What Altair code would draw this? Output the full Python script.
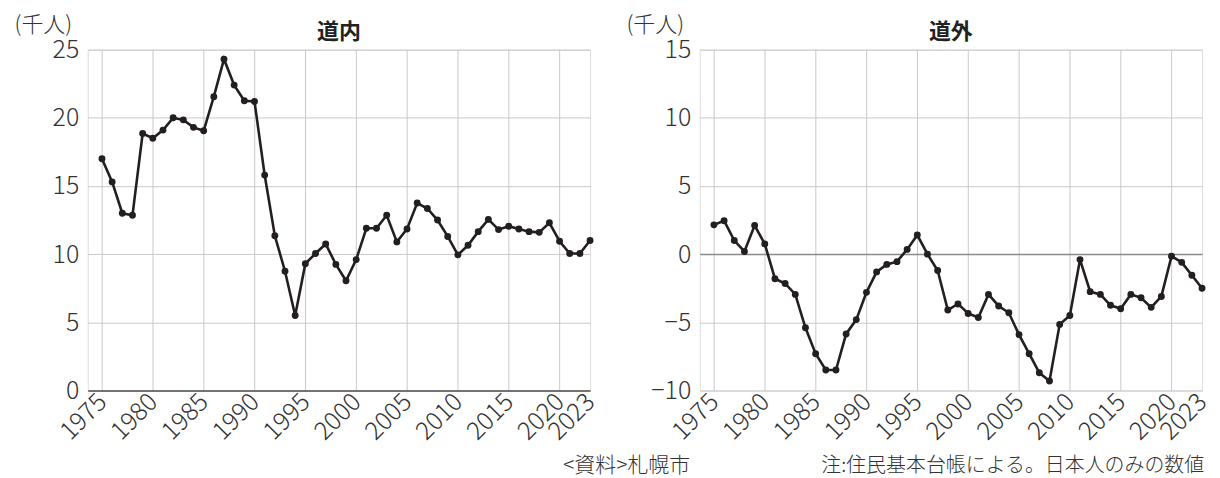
import altair as alt
import pandas as pd

FONT = "Noto Sans CJK JP"

years = list(range(1975, 2024))

dounai = [17.0, 15.3, 13.0, 12.85, 18.85, 18.5, 19.1, 20.0, 19.85, 19.3,
          19.05, 21.55, 24.3, 22.4, 21.25, 21.2, 15.8, 11.35, 8.75, 5.5,
          9.3, 10.05, 10.75, 9.25, 8.05, 9.6, 11.9, 11.9, 12.85, 10.9,
          11.85, 13.75, 13.35, 12.5, 11.3, 9.95, 10.65, 11.65, 12.55, 11.8,
          12.05, 11.85, 11.65, 11.6, 12.3, 10.95, 10.05, 10.05, 11.0]

dougai = [2.15, 2.45, 1.0, 0.2, 2.1, 0.75, -1.8, -2.15, -2.95, -5.4,
          -7.3, -8.5, -8.5, -5.85, -4.8, -2.8, -1.3, -0.75, -0.55, 0.35,
          1.4, 0.0, -1.2, -4.1, -3.65, -4.35, -4.65, -2.95, -3.8, -4.3,
          -5.9, -7.3, -8.7, -9.3, -5.15, -4.5, -0.4, -2.75, -2.95, -3.75,
          -4.0, -2.95, -3.2, -3.9, -3.1, -0.15, -0.6, -1.55, -2.5]

tick_years = [1975, 1980, 1985, 1990, 1995, 2000, 2005, 2010, 2015, 2020, 2023]

titles = ["道内", "道外"]
unit_label = "(千人)"
source_text = "<資料>札幌市"
note_text = "注:住民基本台帳による。日本人のみの数値"

GRID = "#c9c9cd"
LINE = "#231f20"
LABEL = "#333333"


def text_layer(txt, size, weight, x, y, align="left", color=LABEL):
    return alt.Chart(pd.DataFrame({"t": [txt]})).mark_text(
        align=align, baseline="alphabetic", font=FONT, fontSize=size,
        fontWeight=weight, color=color
    ).encode(text="t:N", x=alt.value(x), y=alt.value(y))


def panel(values, title, ymin, ymax, zero_color, zero_width):
    df = pd.DataFrame({"year": years, "value": values})
    base = alt.Chart(df)
    x = alt.X(
        "year:Q",
        scale=alt.Scale(domain=[1973.6, 2023], nice=False, zero=False),
        axis=alt.Axis(
            values=tick_years, format="d", labelAngle=-45, labelAlign="right",
            labelBaseline="middle", labelPadding=7, ticks=False, domain=False,
            gridColor=GRID, gridWidth=1,
            gridOpacity=alt.condition("datum.value == 2023", alt.value(0), alt.value(1)),
            labelFont=FONT, labelFontSize=25, labelFontWeight=300, labelColor=LABEL,
            labelOverlap=False, labelFlush=False, title=None,
        ),
    )
    y = alt.Y(
        "value:Q",
        scale=alt.Scale(domain=[ymin, ymax], nice=False, zero=False),
        axis=alt.Axis(
            values=list(range(ymin, ymax + 1, 5)), ticks=False, domain=False,
            gridColor=alt.condition("datum.value == 0", alt.value(zero_color), alt.value(GRID)),
            gridWidth=alt.condition("datum.value == 0", alt.value(zero_width), alt.value(1)),
            labelFont=FONT, labelFontSize=25, labelFontWeight=300, labelColor=LABEL,
            labelPadding=9, labelFlush=False, labelOverlap=False,
            title=unit_label, titleAngle=0, titleX=-74, titleY=-18,
            titleAlign="left", titleBaseline="alphabetic",
            titleFont=FONT, titleFontSize=22, titleFontWeight=300, titleColor=LABEL,
        ),
    )
    line = base.mark_line(color=LINE, strokeWidth=2.6).encode(x=x, y=y)
    pts = base.mark_circle(color=LINE, size=48, opacity=1).encode(x=x, y=y)
    ttl = text_layer(title, 22, "bold", 252, -11, align="center", color="#222222")
    return alt.layer(line, pts, ttl).properties(width=504, height=342)


left = panel(dounai, titles[0], 0, 25, "#4a4a4a", 1.6)
right_core = panel(dougai, titles[1], -10, 15, "#8a8a8a", 1.6)

src = text_layer(source_text, 21, 300, -137, 424)
note = text_layer(note_text, 20, 300, 122, 424)

right = alt.layer(right_core, src, note)

chart = alt.hconcat(left, right, spacing=110, bounds="flush").properties(
    padding={"left": 5, "top": 4, "right": 0, "bottom": 0}
).configure_view(stroke="transparent").configure(background="white")

chart.save("out.html", embed_options={"renderer": "svg", "actions": False})
